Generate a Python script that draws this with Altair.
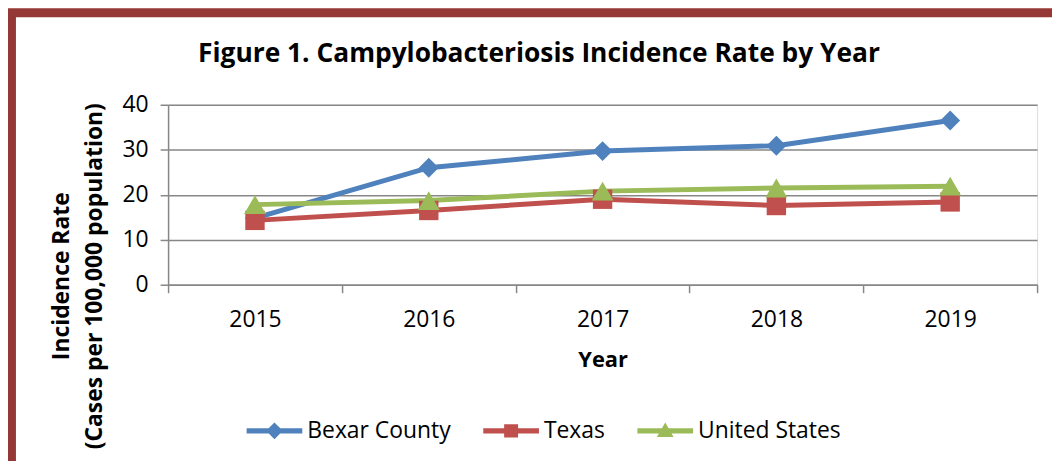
import altair as alt
import pandas as pd

years = ["2015", "2016", "2017", "2018", "2019"]
series_names = ["Bexar County", "Texas", "United States"]
bexar = [14.8, 26.0, 29.7, 30.9, 36.5]
texas = [14.3, 16.5, 19.0, 17.6, 18.4]
us = [17.8, 18.7, 20.8, 21.5, 21.9]
colors = ["#4F81BD", "#C0504D", "#9BBB59"]
markers = ["diamond", "square", "triangle-up"]
marker_sizes = [400, 380, 480]
title_text = "Figure 1. Campylobacteriosis Incidence Rate by Year"

rows = []
for name, vals in zip(series_names, [bexar, texas, us]):
    for y, v in zip(years, vals):
        rows.append({"year": y, "series": name, "rate": v})
df = pd.DataFrame(rows)

FONT = "Open Sans"
GRID = "#878787"

color_scale = alt.Scale(domain=series_names, range=colors)

# legend symbols: line with marker
line_part = "M-1,-0.09L1,-0.09L1,0.09L-1,0.09Z"
leg_paths = [
    line_part + "M0,-0.3L0.3,0L0,0.3L-0.3,0Z",
    line_part + "M-0.25,-0.24L0.25,-0.24L0.25,0.24L-0.25,0.24Z",
    line_part + "M0,-0.3L0.3,0.22L-0.3,0.22Z",
]

legend_props = dict(
    title=None,
    orient="none",
    direction="horizontal",
    legendX=79,
    legendY=300,
    symbolSize=3136,
    symbolOpacity=1,
    symbolStrokeWidth=0,
    labelFont=FONT,
    labelFontSize=23,
    labelColor="#000000",
    labelOffset=5,
    columnPadding=32,
    padding=0,
)

x_enc = alt.X(
    "year:N",
    scale=alt.Scale(domain=years, paddingInner=0, paddingOuter=0),
    axis=alt.Axis(
        title="Year",
        labelAngle=0,
        tickBand="extent",
        grid=False,
        domainColor=GRID,
        domainWidth=1.5,
        tickColor=GRID,
        tickWidth=1.5,
        tickSize=8,
        labelPadding=16,
        labelFontSize=23,
        labelFont=FONT,
        labelColor="#000000",
        titleFont=FONT,
        titleFontSize=22,
        titleFontWeight="bold",
        titleColor="#000000",
        titlePadding=18,
    ),
)
y_enc = alt.Y(
    "rate:Q",
    scale=alt.Scale(domain=[0, 40]),
    axis=alt.Axis(
        title=["Incidence Rate", "(Cases per 100,000 population)"],
        values=[0, 10, 20, 30, 40],
        grid=True,
        gridColor=GRID,
        gridWidth=1.5,
        domainColor=GRID,
        domainWidth=1.5,
        tickColor=GRID,
        tickWidth=1.5,
        tickSize=8,
        labelPadding=12,
        labelFontSize=23,
        labelFont=FONT,
        labelColor="#000000",
        titleFont=FONT,
        titleFontSize=23,
        titleFontWeight="bold",
        titleColor="#000000",
        titleAngle=-90,
        titleAlign="center",
        titleBaseline="middle",
        titleX=-107,
        titleY=172,
        titleLineHeight=33,
    ),
)

base = alt.Chart(df)

lines = base.mark_line(strokeWidth=5).encode(
    x=x_enc, y=y_enc,
    color=alt.Color("series:N", scale=color_scale),
    detail="series:N",
)

point_layers = []
for name, shp, sz in zip(series_names, markers, marker_sizes):
    point_layers.append(
        base.transform_filter(alt.datum.series == name)
        .mark_point(filled=True, opacity=1, strokeWidth=0)
        .encode(
            x="year:N", y="rate:Q",
            color=alt.Color("series:N", scale=color_scale),
            shape=alt.value(shp),
            size=alt.value(sz),
        )
    )

legend_layer = base.mark_point(filled=True, opacity=0).encode(
    x="year:N", y="rate:Q",
    color=alt.Color("series:N", scale=color_scale, legend=alt.Legend(**legend_props)),
    shape=alt.Shape(
        "series:N",
        scale=alt.Scale(domain=series_names, range=leg_paths),
        legend=alt.Legend(**legend_props),
    ),
)

frame_df = pd.DataFrame({"k": [0]})
frame_color = "#953735"
frame_v = alt.Chart(frame_df).mark_rule(color=frame_color, strokeWidth=9).encode(
    x=alt.value(-157.5), y=alt.value(-96), y2=alt.value(370)
)
frame_h = alt.Chart(frame_df).mark_rule(color=frame_color, strokeWidth=9).encode(
    x=alt.value(-161), x2=alt.value(891), y=alt.value(-92.5)
)
title_mark = alt.Chart(frame_df).mark_text(
    text=title_text,
    font=FONT,
    fontSize=26.5,
    fontWeight="bold",
    color="#000000",
    align="center",
    baseline="alphabetic",
).encode(x=alt.value(373), y=alt.value(-43))

chart = alt.layer(
    lines, *point_layers, legend_layer, frame_v, frame_h, title_mark
).properties(
    width=874,
    height=181,
    autosize=alt.AutoSizeParams(type="none"),
    padding={"left": 161, "top": 96, "right": 15, "bottom": 176},
).configure_view(stroke=None).configure(background="white")

chart.save("out.html", embed_options={"renderer": "svg", "actions": False})
